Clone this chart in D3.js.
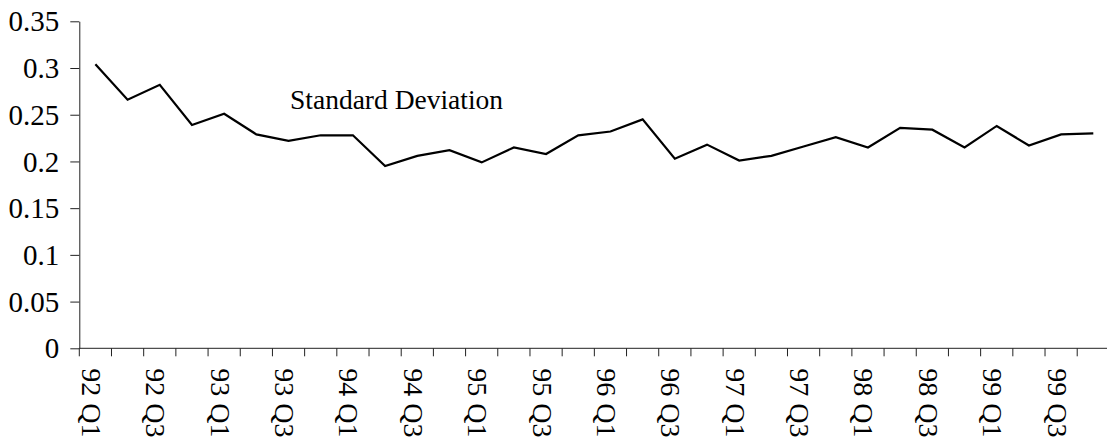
<html>
<head>
  <style>
    body { margin: 0; background: #fff; }
    text { font-family: "Liberation Serif", "Times New Roman", serif; fill: #000; }
  </style>
</head>
<body>
  <div id="chart"></div>
  <script src="https://d3js.org/d3.v7.min.js"></script>
  <script>
    // quarters 92 Q1 .. 99 Q4
    var quarters = [
      "92 Q1", "92 Q2", "92 Q3", "92 Q4", "93 Q1", "93 Q2", "93 Q3", "93 Q4",
      "94 Q1", "94 Q2", "94 Q3", "94 Q4", "95 Q1", "95 Q2", "95 Q3", "95 Q4",
      "96 Q1", "96 Q2", "96 Q3", "96 Q4", "97 Q1", "97 Q2", "97 Q3", "97 Q4",
      "98 Q1", "98 Q2", "98 Q3", "98 Q4", "99 Q1", "99 Q2", "99 Q3", "99 Q4"
    ];
    var stdDev = [
      0.304, 0.266, 0.282, 0.239, 0.251, 0.229, 0.222, 0.228,
      0.228, 0.195, 0.206, 0.212, 0.199, 0.215, 0.208, 0.228,
      0.232, 0.245, 0.203, 0.218, 0.201, 0.206, 0.216, 0.226,
      0.215, 0.236, 0.234, 0.215, 0.238, 0.217, 0.229, 0.230
    ];
    var yTicks = [0, 0.05, 0.1, 0.15, 0.2, 0.25, 0.3, 0.35];
    var yTickLabels = ["0", "0.05", "0.1", "0.15", "0.2", "0.25", "0.3", "0.35"];
    var seriesLabel = "Standard Deviation";

    var width = 1107, height = 440;

    var svg = d3.select("#chart").append("svg")
        .attr("width", width)
        .attr("height", height);

    var x = d3.scaleBand()
        .domain(quarters)
        .range([79.3, 1109.4])
        .padding(0);

    var y = d3.scaleLinear()
        .domain([0, 0.35])
        .range([348.3, 21.3]);

    // y axis
    var yAxis = d3.axisLeft(y)
        .tickValues(yTicks)
        .tickSize(9)
        .tickSizeOuter(0)
        .tickPadding(11)
        .tickFormat(function (d, i) { return yTickLabels[i]; });

    var gy = svg.append("g")
        .attr("transform", "translate(" + x.range()[0] + ",0)")
        .call(yAxis);
    gy.select(".domain").attr("stroke", "#222");
    gy.selectAll(".tick line").attr("stroke", "#222");
    gy.selectAll(".tick text")
        .attr("font-family", "Liberation Serif")
        .attr("font-size", 29)
        .attr("fill", "#000")
        .attr("dy", "0.33em");

    // x axis: line, ticks at category boundaries
    var gx = svg.append("g");
    gx.append("line")
        .attr("x1", x.range()[0]).attr("x2", x.range()[1])
        .attr("y1", y(0)).attr("y2", y(0))
        .attr("stroke", "#222");

    var bounds = quarters.map(function (q) { return x(q); }).concat([x.range()[1]]);
    gx.selectAll(".xtick")
        .data(bounds)
        .enter().append("line")
        .attr("class", "xtick")
        .attr("x1", function (d) { return d; })
        .attr("x2", function (d) { return d; })
        .attr("y1", y(0))
        .attr("y2", y(0) + 8)
        .attr("stroke", "#222");

    gx.selectAll(".xlabel")
        .data(quarters.filter(function (q, i) { return i % 2 === 0; }))
        .enter().append("text")
        .attr("class", "xlabel")
        .attr("transform", function (d) {
          return "translate(" + (x(d) + x.bandwidth() / 2 - 13.5) + "," + (y(0) + 20) + ") rotate(90)";
        })
        .attr("font-size", 28)
        .text(function (d) { return d; });

    // series line
    var line = d3.line()
        .x(function (d, i) { return x(quarters[i]) + x.bandwidth() / 2; })
        .y(function (d) { return y(d); });

    svg.append("path")
        .datum(stdDev)
        .attr("fill", "none")
        .attr("stroke", "#000")
        .attr("stroke-width", 2.2)
        .attr("stroke-linejoin", "miter")
        .attr("d", line);

    // series annotation
    svg.append("text")
        .attr("x", 290)
        .attr("y", 109.3)
        .attr("font-size", 27.5)
        .text(seriesLabel);
  </script>
</body>
</html>
